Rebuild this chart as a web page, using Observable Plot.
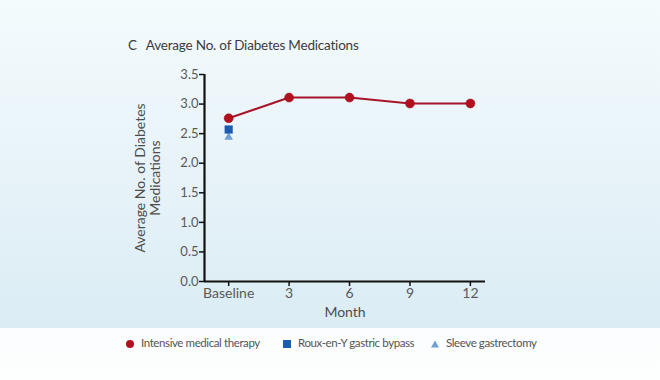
<!DOCTYPE html>
<html>
<head>
<meta charset="utf-8">
<script src="https://cdn.jsdelivr.net/npm/d3@7"></script>
<script src="https://cdn.jsdelivr.net/npm/@observablehq/plot@0.6"></script>
<style>
  html, body { margin: 0; padding: 0; }
  body { width: 660px; height: 380px; overflow: hidden; font-family: Lato, "Open Sans", sans-serif; }
  #wrap { position: relative; width: 660px; height: 380px;
    background: linear-gradient(#f3fbfd 0px, #e9f4f9 150px, #dbecf4 328px, #fbfdfe 328px, #fdfefe 380px); }
  #title { position: absolute; left: 128px; top: 37px; font-size: 13.5px; color: #3c3c3c; letter-spacing: -0.2px; }
  #title span { margin-right: 9px; }
  #chart { position: absolute; left: 0; top: 60px; }
  #legend { position: absolute; left: 0; top: 336px; width: 660px; font-size: 11.5px; color: #555; letter-spacing: -0.4px; }
  .item { position: absolute; top: 0; white-space: nowrap; }
  .sw { display: inline-block; margin-right: 6px; vertical-align: middle; }
</style>
</head>
<body>
<div id="wrap">
  <div id="title"><span>C</span>Average No. of Diabetes Medications</div>
  <div id="chart"></div>
  <div id="legend"></div>
</div>
<script>
const months = [0, 3, 6, 9, 12];
const tickLabels = ["Baseline", "3", "6", "9", "12"];
const imtValues = [2.76, 3.11, 3.11, 3.01, 3.01];
const rygbValues = [2.57];
const sleeveValues = [2.44];
const seriesNames = ["Intensive medical therapy", "Roux-en-Y gastric bypass", "Sleeve gastrectomy"];
const seriesColors = ["#b3101f", "#1b5cb0", "#6f9fd6"];
const yTicks = [0, 0.5, 1, 1.5, 2, 2.5, 3, 3.5];

const imt = months.map((m, i) => ({month: m, value: imtValues[i]}));
const rygb = rygbValues.map((v, i) => ({month: months[i], value: v}));
const sleeve = sleeveValues.map((v, i) => ({month: months[i], value: v}));

const plot = Plot.plot({
  width: 660,
  height: 266,
  marginLeft: 204,
  marginRight: 175,
  marginTop: 14,
  marginBottom: 45,
  style: {background: "transparent", fontFamily: "Lato, 'Open Sans', sans-serif", fontSize: "13px", color: "#555", overflow: "visible"},
  x: {domain: [-1.2, 12.75]},
  y: {domain: [0, 3.5]},
  marks: [
    Plot.axisY(yTicks, {tickSize: 5, tickFormat: d => d.toFixed(1), stroke: "#111", strokeWidth: 1.5, tickPadding: 1, label: null, fill: "#595959", fontSize: 13}),
    Plot.axisX(months, {tickSize: 5, tickFormat: (d) => tickLabels[months.indexOf(d)], stroke: "#111", strokeWidth: 1.5, tickPadding: 2, label: null, fill: "#595959", fontSize: 14}),
    Plot.ruleX([-1.2], {stroke: "#111", strokeWidth: 2.2}),
    Plot.ruleY([0], {stroke: "#111", strokeWidth: 2.2}),
    Plot.text(["Average No. of Diabetes\nMedications"], {frameAnchor: "left", textAnchor: "middle", lineAnchor: "middle", rotate: -90, dx: -57, fontSize: 14, fill: "#4d4d4d", lineHeight: 1.1}),
    Plot.text(["Month"], {frameAnchor: "bottom", dy: 35, fontSize: 14, fill: "#4d4d4d"}),
    Plot.line(imt, {x: "month", y: "value", stroke: "#a8152a", strokeWidth: 2}),
    Plot.dot(imt, {x: "month", y: "value", r: 4.5, fill: seriesColors[0], stroke: "#9a0d1a", strokeWidth: 0.5}),
    Plot.dot(sleeve, {x: "month", y: "value", symbol: "triangle", r: 3.2, fill: seriesColors[2]}),
    Plot.dot(rygb, {x: "month", y: "value", symbol: "square", r: 4.6, fill: seriesColors[1]})
  ]
});
document.getElementById("chart").appendChild(plot);

const legend = document.getElementById("legend");
const lefts = [125, 282, 430];
const shapes = [
  c => `<svg class="sw" width="10" height="10"><circle cx="5" cy="5" r="4" fill="${c}"/></svg>`,
  c => `<svg class="sw" width="10" height="10"><rect x="1" y="1" width="8" height="8" fill="${c}"/></svg>`,
  c => `<svg class="sw" width="10" height="10"><path d="M5,1.5 L9,8.5 L1,8.5 Z" fill="${c}"/></svg>`
];
seriesNames.forEach((name, i) => {
  const d = document.createElement("div");
  d.className = "item";
  d.style.left = lefts[i] + "px";
  d.innerHTML = shapes[i](seriesColors[i]) + `<span>${name}</span>`;
  legend.appendChild(d);
});
</script>
</body>
</html>
